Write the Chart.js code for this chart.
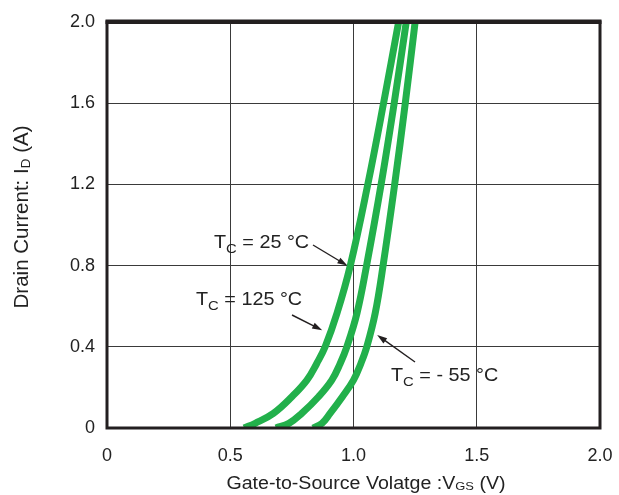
<!DOCTYPE html>
<html>
<head>
<meta charset="utf-8">
<script src="https://cdn.jsdelivr.net/npm/chart.js@4.4.1/dist/chart.umd.min.js"></script>
<style>
  html, body { margin: 0; padding: 0; background: #fff; }
  #wrap { width: 619px; height: 495px; position: relative; }
</style>
</head>
<body>
<div id="wrap"><canvas id="c" width="619" height="495"></canvas></div>
<script>
// Drain current levels (A) at which each curve's gate voltage was read
const currentLevels = [0, 0.023, 0.072, 0.154, 0.236, 0.318, 0.40, 0.565, 0.80, 1.20, 1.60, 2.00];
// Gate-to-source voltage (V) for each temperature
const vgsT125 = [0.556, 0.601, 0.675, 0.750, 0.811, 0.851, 0.885, 0.933, 0.987, 1.058, 1.122, 1.183];
const vgsT25  = [0.685, 0.738, 0.790, 0.858, 0.912, 0.946, 0.973, 1.014, 1.053, 1.112, 1.165, 1.214];
const vgsTm55 = [0.836, 0.872, 0.905, 0.955, 1.000, 1.030, 1.054, 1.088, 1.120, 1.167, 1.210, 1.250];
const seriesNames = ['TC = 125 °C', 'TC = 25 °C', 'TC = - 55 °C'];
const xTicks = [0, 0.5, 1.0, 1.5, 2.0];
const yTicks = [0, 0.4, 0.8, 1.2, 1.6, 2.0];

const FONT = '"Liberation Sans", Arial, sans-serif';
const GREEN = '#22b04b';
const INK = '#231f20';

function pts(xs) { return xs.map((v, i) => ({ x: v, y: currentLevels[i] })); }

// segs: [{t, sub}] ; draws text with horizontal stretch sx
function drawRich(ctx, segs, x, y, size, align, sx, subScale, subDrop) {
  sx = sx || 1; subScale = subScale || 0.72; subDrop = subDrop || 0.28;
  let w = 0;
  segs.forEach(s => { ctx.font = (s.sub ? size * subScale : size) + 'px ' + FONT; s.w = ctx.measureText(s.t).width; w += s.w; });
  ctx.save();
  ctx.translate(x, y);
  ctx.scale(sx, 1);
  let cx = align === 'center' ? -w / 2 : 0;
  ctx.textBaseline = 'alphabetic';
  ctx.textAlign = 'left';
  segs.forEach(s => {
    ctx.font = (s.sub ? size * subScale : size) + 'px ' + FONT;
    ctx.fillText(s.t, cx, s.sub ? size * subDrop : 0);
    cx += s.w;
  });
  ctx.restore();
}

function arrow(ctx, x1, y1, x2, y2) {
  const ang = Math.atan2(y2 - y1, x2 - x1);
  const hl = 10, hw = 3.2;
  ctx.beginPath();
  ctx.moveTo(x1, y1);
  ctx.lineTo(x2 - Math.cos(ang) * hl * 0.8, y2 - Math.sin(ang) * hl * 0.8);
  ctx.lineWidth = 1.4;
  ctx.strokeStyle = INK;
  ctx.stroke();
  ctx.beginPath();
  ctx.moveTo(x2, y2);
  ctx.lineTo(x2 - Math.cos(ang) * hl - Math.sin(ang) * hw, y2 - Math.sin(ang) * hl + Math.cos(ang) * hw);
  ctx.lineTo(x2 - Math.cos(ang) * hl + Math.sin(ang) * hw, y2 - Math.sin(ang) * hl - Math.cos(ang) * hw);
  ctx.closePath();
  ctx.fillStyle = INK;
  ctx.fill();
}

const decor = {
  id: 'decor',
  afterDatasetsDraw(chart) {
    const ctx = chart.ctx;
    const a = chart.chartArea;
    const xs = chart.scales.x, ys = chart.scales.y;
    ctx.save();
    // frame
    ctx.strokeStyle = INK;
    ctx.lineWidth = 3;
    ctx.strokeRect(a.left, a.top, a.right - a.left, a.bottom - a.top);
    ctx.fillStyle = INK;
    ctx.fillRect(a.left - 1.5, a.top - 2.5, a.right - a.left + 3, 4.5);

    ctx.fillStyle = '#222';
    // axis titles
    drawRich(ctx, [{t: 'Gate-to-Source Volatge :V'}, {t: 'GS', sub: true}, {t: ' (V)'}], 366, 489, 17.5, 'center', 1.12, 0.66, 0.05);
    ctx.save();
    ctx.translate(28, 217);
    ctx.rotate(-Math.PI / 2);
    drawRich(ctx, [{t: 'Drain Current: I'}, {t: 'D', sub: true}, {t: ' (A)'}], 0, 0, 20.5, 'center', 1, 0.66, 0.1);
    ctx.restore();

    // annotations
    const px = v => xs.getPixelForValue(v), py = v => ys.getPixelForValue(v);
    drawRich(ctx, [{t: 'T'}, {t: 'C', sub: true}, {t: ' = 25 °C'}], 214, 248, 18, 'left', 1.1, 0.75, 0.3);
    drawRich(ctx, [{t: 'T'}, {t: 'C', sub: true}, {t: ' = 125 °C'}], 196, 305, 18, 'left', 1.1, 0.75, 0.3);
    drawRich(ctx, [{t: 'T'}, {t: 'C', sub: true}, {t: ' = - 55 °C'}], 391, 381, 18, 'left', 1.1, 0.75, 0.3);
    arrow(ctx, 313, 245, px(0.975), py(0.80));
    arrow(ctx, 292, 315, px(0.873), py(0.482));
    arrow(ctx, 415, 362, px(1.096), py(0.458));
    ctx.restore();
  }
};

const mkDs = (label, xs) => ({
  label, data: pts(xs), showLine: true, borderColor: GREEN, backgroundColor: GREEN,
  borderWidth: 7, pointRadius: 0, tension: 0.4, borderCapStyle: 'butt', borderJoinStyle: 'round'
});

new Chart(document.getElementById('c'), {
  type: 'scatter',
  data: { datasets: [mkDs(seriesNames[0], vgsT125), mkDs(seriesNames[1], vgsT25), mkDs(seriesNames[2], vgsTm55)] },
  options: {
    responsive: false,
    animation: false,
    layout: { padding: { top: 22, right: 19, left: 0, bottom: 0 } },
    plugins: { legend: { display: false }, tooltip: { enabled: false } },
    scales: {
      x: {
        type: 'linear', min: 0, max: 2.0,
        afterBuildTicks: s => { s.ticks = xTicks.map(v => ({ value: v })); },
        afterFit: s => { s.height = 67; s.paddingLeft = 0; s.paddingRight = 0; },
        grid: { color: '#3a3a3a', lineWidth: 1, drawTicks: false },
        border: { display: false },
        ticks: { color: '#222', padding: 17, font: { family: FONT, size: 18 },
                 callback: v => v === 0 ? '0' : Number(v).toFixed(1) }
      },
      y: {
        type: 'linear', min: 0, max: 2.0,
        afterBuildTicks: s => { s.ticks = yTicks.map(v => ({ value: v })); },
        afterFit: s => { s.width = 107; s.paddingTop = 0; s.paddingBottom = 0; },
        grid: { color: '#3a3a3a', lineWidth: 1, drawTicks: false },
        border: { display: false },
        ticks: { color: '#222', padding: 12, font: { family: FONT, size: 18 },
                 callback: v => v === 0 ? '0' : Number(v).toFixed(1) }
      }
    }
  },
  plugins: [decor]
});
</script>
</body>
</html>
